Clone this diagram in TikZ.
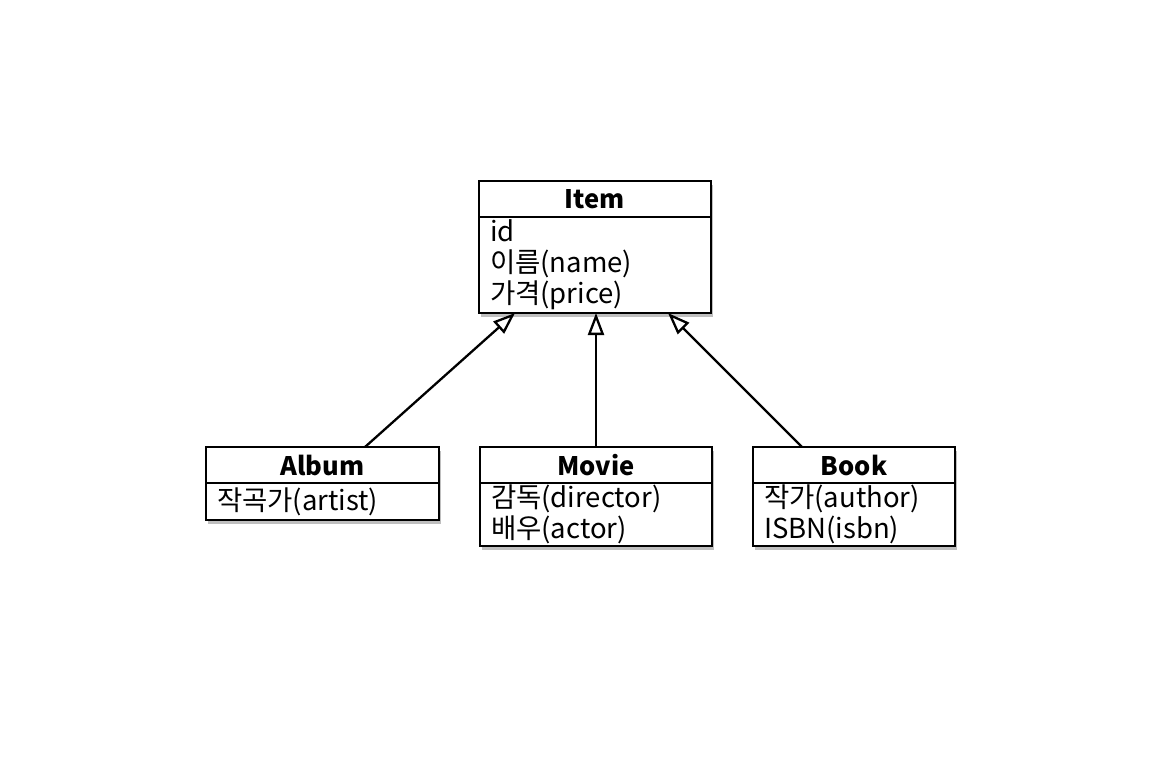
\documentclass[tikz,border=0pt]{standalone}
\usepackage{fontspec}
\setmainfont{Noto Sans CJK KR}
\usetikzlibrary{arrows.meta,calc,shadows,fit,backgrounds}
\begin{document}
\begin{tikzpicture}[x=1pt,y=-1pt,
  hdr/.style={draw, line width=2.8pt, outer sep=0pt, fill=white, minimum height=36pt, inner sep=0pt,
    font=\fontsize{25.5}{30}\selectfont\bfseries},
  bodybox/.style={draw, line width=2.8pt, outer sep=0pt, fill=white, anchor=north, inner xsep=11pt, inner ysep=0pt,
    align=left, font=\fontsize{27.5}{31}\selectfont},
  shbox/.style={fit=#1, inner sep=0pt, fill=white, line width=2.8pt,
    drop shadow={shadow xshift=2pt, shadow yshift=-4pt, opacity=0.25, fill=black}},
  inherit/.style={draw, line width=2.3pt, -{Triangle[open, length=22pt, width=16pt, fill=white, line width=2.3pt]}}
]
\useasboundingbox (0,0) rectangle (1162,756);
% Item
\node[hdr, minimum width=232pt] (item) at (595,199) {Item};
\node[bodybox, text width=210pt, minimum height=96pt] (itemb) at (item.south) {id\\이름(name)\\가격(price)};
% Album
\node[hdr, minimum width=233pt] (album) at (322.5,465) {Album};
\node[bodybox, text width=211pt, minimum height=37pt] (albumb) at (album.south) {작곡가(artist)};
% Movie
\node[hdr, minimum width=232pt] (movie) at (596,465) {Movie};
\node[bodybox, text width=210pt, minimum height=63pt] (movieb) at (movie.south) {감독(director)\\배우(actor)};
% Book
\node[hdr, minimum width=202pt] (book) at (854,465) {Book};
\node[bodybox, text width=180pt, minimum height=63pt] (bookb) at (book.south) {작가(author)\\ISBN(isbn)};
% shadows
\begin{scope}[on background layer]
\node[shbox={(item)(itemb)}] (itemsh) {};
\node[shbox={(album)(albumb)}] (albumsh) {};
\node[shbox={(movie)(movieb)}] (moviesh) {};
\node[shbox={(book)(bookb)}] (booksh) {};
\end{scope}
% connectors
\draw[inherit] ($(album.north)+(42.5,0)$) -- ($(itemb.south)+(-80,0)$);
\draw[inherit] (movie.north) -- (movie.north |- itemb.south);
\draw[inherit] ($(book.north)+(-52,0)$) -- ($(itemb.south)+(73,0)$);
\end{tikzpicture}
\end{document}
